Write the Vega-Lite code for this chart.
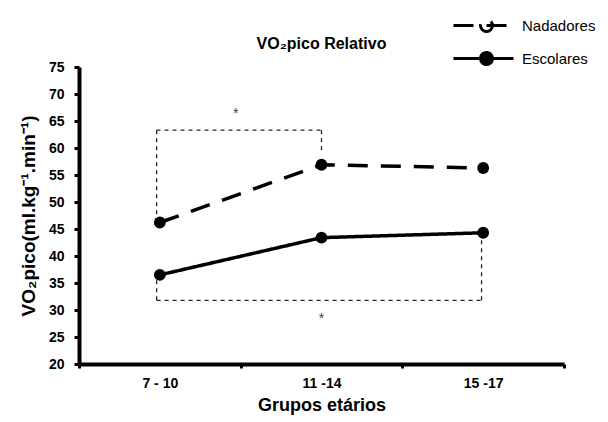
{
  "$schema": "https://vega.github.io/schema/vega-lite/v6.json",
  "autosize": {"type": "none"},
  "width": 485,
  "height": 297,
  "padding": {"left": 79, "top": 67, "right": 44, "bottom": 58},
  "background": "white",
  "title": {
    "text": "VO₂pico Relativo",
    "font": "Liberation Sans",
    "fontSize": 16,
    "fontWeight": "bold",
    "color": "black",
    "frame": "group",
    "offset": 13,
    "dy": 56
  },
  "datasets": {
    "main": [
      {"grupo": "7 - 10", "serie": "Nadadores", "vo2": 46.2},
      {"grupo": "11 -14", "serie": "Nadadores", "vo2": 56.9},
      {"grupo": "15 -17", "serie": "Nadadores", "vo2": 56.3},
      {"grupo": "7 - 10", "serie": "Escolares", "vo2": 36.5},
      {"grupo": "11 -14", "serie": "Escolares", "vo2": 43.4},
      {"grupo": "15 -17", "serie": "Escolares", "vo2": 44.3}
    ],
    "brackets": [
      {"x": 0.48, "x2": 1.5, "y": 63.3, "y2": 63.3},
      {"x": 0.48, "x2": 0.48, "y": 63.3, "y2": 47.6},
      {"x": 1.5, "x2": 1.5, "y": 63.3, "y2": 59.3},
      {"x": 0.48, "x2": 2.49, "y": 31.8, "y2": 31.8},
      {"x": 0.48, "x2": 0.48, "y": 31.8, "y2": 35.5},
      {"x": 2.49, "x2": 2.49, "y": 31.8, "y2": 43.6}
    ],
    "stars": [
      {"x": 0.97, "y": 66.3, "t": "*"},
      {"x": 1.5, "y": 28.4, "t": "*"}
    ]
  },
  "layer": [
    {
      "data": {"name": "main"},
      "mark": {"type": "line", "color": "black", "strokeWidth": 3.5},
      "encoding": {
        "x": {
          "field": "grupo", "type": "nominal",
          "scale": {"domain": ["7 - 10", "11 -14", "15 -17"], "paddingInner": 0, "paddingOuter": 0},
          "title": "Grupos etários",
          "axis": {
            "labelAngle": 0,
            "tickBand": "extent",
            "domainWidth": 4,
            "domainColor": "black",
            "tickColor": "black",
            "tickWidth": 3,
            "tickSize": 4,
            "labelFont": "Liberation Sans",
            "labelFontSize": 14,
            "labelFontWeight": "bold",
            "labelColor": "black",
            "labelPadding": 8,
            "titleFont": "Liberation Sans",
            "titleFontSize": 18,
            "titleFontWeight": "bold",
            "titleColor": "black",
            "titlePadding": 6
          }
        },
        "y": {
          "field": "vo2", "type": "quantitative",
          "scale": {"domain": [20, 75], "nice": false},
          "title": "VO₂pico(ml.kg⁻¹.min⁻¹)",
          "axis": {"values": [20, 25, 30, 35, 40, 45, 50, 55, 60, 65, 70, 75], "tickCount": 12}
        },
        "strokeDash": {
          "field": "serie", "type": "nominal",
          "scale": {"domain": ["Nadadores", "Escolares"], "range": [[20, 13], [1, 0]]},
          "legend": {
            "title": null,
            "orient": "none",
            "legendX": 388,
            "legendY": -58,
            "padding": 0,
            "symbolType": "M-2,0L2,0M0.6,0A0.4,0.4,0,1,1,-0.2,0A0.4,0.4,0,1,1,0.6,0",
            "symbolSize": 900,
            "symbolStrokeWidth": 3,
            "symbolStrokeColor": "black",
            "rowPadding": 4,
            "labelOffset": 22,
            "labelFont": "Liberation Sans",
            "labelFontSize": 15,
            "labelColor": "black",
            "encode": {
              "symbols": {
                "update": {
                  "fill": {"signal": "datum.label === 'Nadadores' ? 'white' : 'black'"},
                  "stroke": {"value": "black"},
                  "strokeWidth": {"value": 3},
                  "opacity": {"value": 1}
                }
              }
            }
          }
        }
      }
    },
    {
      "data": {"name": "main"},
      "mark": {"type": "point", "filled": true, "color": "black", "size": 140, "opacity": 1},
      "encoding": {
        "x": {
          "field": "grupo", "type": "nominal",
          "scale": {"domain": ["7 - 10", "11 -14", "15 -17"], "paddingInner": 0, "paddingOuter": 0},
          "axis": null
        },
        "y": {"field": "vo2", "type": "quantitative", "scale": {"domain": [20, 75], "nice": false},
          "title": "VO₂pico(ml.kg⁻¹.min⁻¹)",
          "axis": {"values": [20, 25, 30, 35, 40, 45, 50, 55, 60, 65, 70, 75], "tickCount": 12}},
        "detail": {"field": "serie"}
      }
    },
    {
      "data": {"name": "brackets"},
      "mark": {"type": "rule", "strokeDash": [4, 4], "strokeWidth": 1.3, "color": "#222"},
      "encoding": {
        "x": {"field": "x", "type": "quantitative", "scale": {"domain": [0, 3]}, "axis": null},
        "x2": {"field": "x2"},
        "y": {"field": "y", "type": "quantitative", "scale": {"domain": [20, 75], "nice": false},
          "title": "VO₂pico(ml.kg⁻¹.min⁻¹)",
          "axis": {"values": [20, 25, 30, 35, 40, 45, 50, 55, 60, 65, 70, 75], "tickCount": 12}},
        "y2": {"field": "y2"}
      }
    },
    {
      "data": {"name": "stars"},
      "mark": {"type": "text", "fontSize": 14, "font": "Liberation Sans", "color": "#444"},
      "encoding": {
        "x": {"field": "x", "type": "quantitative", "scale": {"domain": [0, 3]}, "axis": null},
        "y": {"field": "y", "type": "quantitative", "scale": {"domain": [20, 75], "nice": false},
          "title": "VO₂pico(ml.kg⁻¹.min⁻¹)",
          "axis": {"values": [20, 25, 30, 35, 40, 45, 50, 55, 60, 65, 70, 75], "tickCount": 12}},
        "text": {"field": "t"}
      }
    }
  ],
  "resolve": {"scale": {"x": "independent"}},
  "config": {
    "view": {"stroke": null},
    "axisY": {
      "labelOverlap": false,
      "grid": false,
      "domainWidth": 4,
      "domainColor": "black",
      "tickColor": "black",
      "tickWidth": 3,
      "tickSize": 5,
      "labelFont": "Liberation Sans",
      "labelFontSize": 14,
      "labelFontWeight": "bold",
      "labelColor": "black",
      "labelPadding": 10,
      "titleFont": "Liberation Sans",
      "titleFontSize": 19,
      "titleFontWeight": "bold",
      "titleColor": "black",
      "titlePadding": 10
    }
  }
}
